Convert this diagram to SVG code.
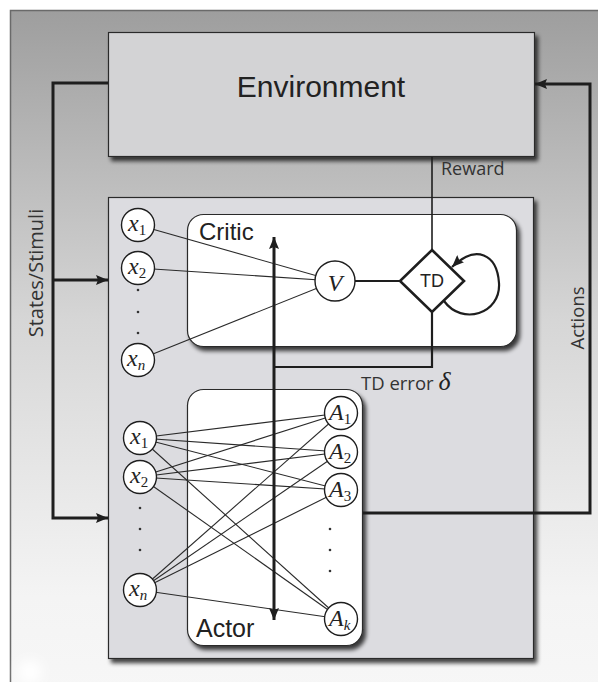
<svg xmlns="http://www.w3.org/2000/svg" width="598" height="682" viewBox="0 0 598 682">
  <defs>
    <linearGradient id="bg" x1="0" y1="0" x2="0" y2="1">
      <stop offset="0" stop-color="#9e9e9e"/>
      <stop offset="0.45" stop-color="#d6d6d6"/>
      <stop offset="0.85" stop-color="#f4f4f4"/>
      <stop offset="1" stop-color="#f7f7f7"/>
    </linearGradient>
    <filter id="shadow" x="-10%" y="-10%" width="125%" height="125%">
      <feGaussianBlur in="SourceAlpha" stdDeviation="2"/>
      <feOffset dx="3" dy="4" result="off"/>
      <feComponentTransfer><feFuncA type="linear" slope="0.75"/></feComponentTransfer>
      <feMerge><feMergeNode/><feMergeNode in="SourceGraphic"/></feMerge>
    </filter>
    <filter id="soft" x="-50%" y="-50%" width="200%" height="200%">
      <feGaussianBlur stdDeviation="6"/>
    </filter>
    <marker id="arrow" viewBox="0 0 12 10" refX="12" refY="5" markerWidth="12" markerHeight="10" markerUnits="userSpaceOnUse" orient="auto">
      <path d="M0,0 L12,5 L0,10 L2,5 z" fill="#1e1e1e"/>
    </marker>
    <marker id="arrowStart" viewBox="0 0 12 10" refX="0" refY="5" markerWidth="12" markerHeight="10" markerUnits="userSpaceOnUse" orient="auto">
      <path d="M12,0 L0,5 L12,10 L10,5 z" fill="#1e1e1e"/>
    </marker>
  </defs>
  <style>
    .frame { fill: url(#bg); stroke: #6a6a6a; stroke-width: 1.5; }
    .box { stroke: #2a2a2a; stroke-width: 1.2; }
    .panel { fill: #ffffff; stroke: #2a2a2a; stroke-width: 1.2; }
    .wire { fill: none; stroke: #1e1e1e; }
    .thick { stroke-width: 3; }
    .mid { stroke-width: 2.2; }
    .thin { stroke-width: 1.6; }
    .weight { stroke: #2a2a2a; stroke-width: 1.1; fill: none; }
    .unit { fill: #ffffff; stroke: #1e1e1e; stroke-width: 1.4; }
    .sans { font-family: "Liberation Sans", Arial, sans-serif; fill: #222; }
    .human { font-family: "Open Sans", "Liberation Sans", sans-serif; fill: #333; }
    .var { font-family: "Liberation Serif", "Times New Roman", serif; font-style: italic; font-size: 24px; fill: #222; }
    .sub { font-style: normal; font-size: 15px; }
    .subi { font-style: italic; font-size: 15px; }
    .dot { fill: #333; }
  </style>

  <!-- page background -->
  <rect x="0" y="0" width="598" height="682" fill="#ffffff"/>
  <rect class="frame" x="10.5" y="10.5" width="600" height="690"/>
  <circle cx="30" cy="672" r="12" fill="#ffffff" filter="url(#soft)"/>

  <!-- Environment -->
  <g id="environment">
    <rect class="box" x="108.5" y="32.5" width="426" height="124" fill="#d3d3d5" filter="url(#shadow)"/>
    <text class="sans" x="321" y="97" font-size="30" text-anchor="middle">Environment</text>
  </g>

  <!-- Agent container -->
  <g id="agent">
    <rect class="box" x="108.5" y="197.5" width="425" height="461" fill="#dcdce0" filter="url(#shadow)"/>
  </g>

  <!-- Critic panel -->
  <g id="critic">
    <rect class="panel" x="187.5" y="214.5" width="329" height="132" rx="16" ry="16" filter="url(#shadow)"/>
    <text class="sans" x="199" y="240" font-size="24">Critic</text>
  </g>

  <!-- Actor panel -->
  <g id="actor">
    <rect class="panel" x="187.5" y="389.5" width="175" height="256" rx="16" ry="16" filter="url(#shadow)"/>
    <text class="sans" x="196" y="637" font-size="25">Actor</text>
  </g>

  <!-- Connectors -->
  <g id="connectors">
    <!-- critic weights -->
    <line class="weight" x1="138" y1="225" x2="335" y2="281"/>
    <line class="weight" x1="138" y1="268" x2="335" y2="281"/>
    <line class="weight" x1="138" y1="360" x2="335" y2="281"/>
    <!-- actor weights -->
    <line class="weight" x1="140" y1="438" x2="341" y2="413"/>
    <line class="weight" x1="140" y1="438" x2="341" y2="452"/>
    <line class="weight" x1="140" y1="438" x2="341" y2="490"/>
    <line class="weight" x1="140" y1="438" x2="341" y2="619"/>
    <line class="weight" x1="140" y1="477" x2="341" y2="413"/>
    <line class="weight" x1="140" y1="477" x2="341" y2="452"/>
    <line class="weight" x1="140" y1="477" x2="341" y2="490"/>
    <line class="weight" x1="140" y1="477" x2="341" y2="619"/>
    <line class="weight" x1="140" y1="590" x2="341" y2="413"/>
    <line class="weight" x1="140" y1="590" x2="341" y2="452"/>
    <line class="weight" x1="140" y1="590" x2="341" y2="490"/>
    <line class="weight" x1="140" y1="590" x2="341" y2="619"/>

    <!-- states / stimuli feed -->
    <path class="wire thick" d="M108,83 H53 V518 H108" marker-end="url(#arrow)"/>
    <path class="wire thick" d="M53,280 H108" marker-end="url(#arrow)"/>
    <!-- actions back to environment -->
    <path class="wire thick" d="M363,513 H590 V84 H535" marker-end="url(#arrow)"/>
    <!-- reward into TD -->
    <path class="wire thin" d="M432,157 V250"/>
    <!-- V to TD -->
    <path class="wire mid" d="M355,281 H400"/>
    <!-- TD error -->
    <path class="wire mid" d="M432,312 V367 H274"/>
    <!-- TD self loop -->
    <path class="wire mid" d="M444,301 C462,326 501,314 499,283 C497,254 476,244 452,267" marker-end="url(#arrow)"/>
    <!-- shared critic/actor signal -->
    <path class="wire thick" d="M274,237 V620" marker-start="url(#arrowStart)" marker-end="url(#arrow)"/>
  </g>

  <!-- Critic input units -->
  <g id="critic-x1"><circle class="unit" cx="138" cy="225" r="16.5"/><text class="var" x="128" y="231">x<tspan class="sub" dy="4">1</tspan></text></g>
  <g id="critic-x2"><circle class="unit" cx="138" cy="268" r="16.5"/><text class="var" x="128" y="274">x<tspan class="sub" dy="4">2</tspan></text></g>
  <g id="critic-dots"><circle class="dot" cx="138" cy="290" r="1.3"/><circle class="dot" cx="138" cy="312" r="1.3"/><circle class="dot" cx="138" cy="333" r="1.3"/></g>
  <g id="critic-xn"><circle class="unit" cx="138" cy="360" r="16.5"/><text class="var" x="127" y="366">x<tspan class="subi" dy="4">n</tspan></text></g>

  <!-- Value unit -->
  <g id="value"><circle class="unit" cx="335" cy="281" r="20"/><text class="var" x="335" y="291" font-size="29" text-anchor="middle">V</text></g>

  <!-- TD unit -->
  <g id="td">
    <polygon points="432,250 464,281 432,312 400,281" fill="#ffffff" stroke="#1e1e1e" stroke-width="2.6" stroke-linejoin="miter"/>
    <text class="sans" x="432" y="287" font-size="18" text-anchor="middle">TD</text>
  </g>

  <!-- Actor input units -->
  <g id="actor-x1"><circle class="unit" cx="140" cy="438" r="16.5"/><text class="var" x="130" y="444">x<tspan class="sub" dy="4">1</tspan></text></g>
  <g id="actor-x2"><circle class="unit" cx="140" cy="477" r="16.5"/><text class="var" x="130" y="483">x<tspan class="sub" dy="4">2</tspan></text></g>
  <g id="actor-xdots"><circle class="dot" cx="140" cy="508" r="1.3"/><circle class="dot" cx="140" cy="529" r="1.3"/><circle class="dot" cx="140" cy="550" r="1.3"/></g>
  <g id="actor-xn"><circle class="unit" cx="140" cy="590" r="16.5"/><text class="var" x="129" y="596">x<tspan class="subi" dy="4">n</tspan></text></g>

  <!-- Action units -->
  <g id="actor-a1"><circle class="unit" cx="341" cy="413" r="16.5"/><text class="var" x="329" y="420">A<tspan class="sub" dy="4">1</tspan></text></g>
  <g id="actor-a2"><circle class="unit" cx="341" cy="452" r="16.5"/><text class="var" x="329" y="459">A<tspan class="sub" dy="4">2</tspan></text></g>
  <g id="actor-a3"><circle class="unit" cx="341" cy="490" r="16.5"/><text class="var" x="329" y="497">A<tspan class="sub" dy="4">3</tspan></text></g>
  <g id="actor-adots"><circle class="dot" cx="330" cy="529" r="1.3"/><circle class="dot" cx="330" cy="550" r="1.3"/><circle class="dot" cx="330" cy="571" r="1.3"/></g>
  <g id="actor-ak"><circle class="unit" cx="341" cy="619" r="16.5"/><text class="var" x="329" y="626">A<tspan class="subi" dy="4">k</tspan></text></g>

  <!-- Connector labels -->
  <g id="labels">
    <text class="human" x="441" y="175" font-size="18">Reward</text>
    <text class="human" x="361" y="390" font-size="18.5">TD error <tspan font-family="Liberation Serif, serif" font-style="italic" font-size="26" fill="#222">δ</tspan></text>
    <text class="human" transform="translate(43,273) rotate(-90)" font-size="20" text-anchor="middle">States/Stimuli</text>
    <text class="human" transform="translate(584,318) rotate(-90)" font-size="18.5" text-anchor="middle">Actions</text>
  </g>
</svg>
